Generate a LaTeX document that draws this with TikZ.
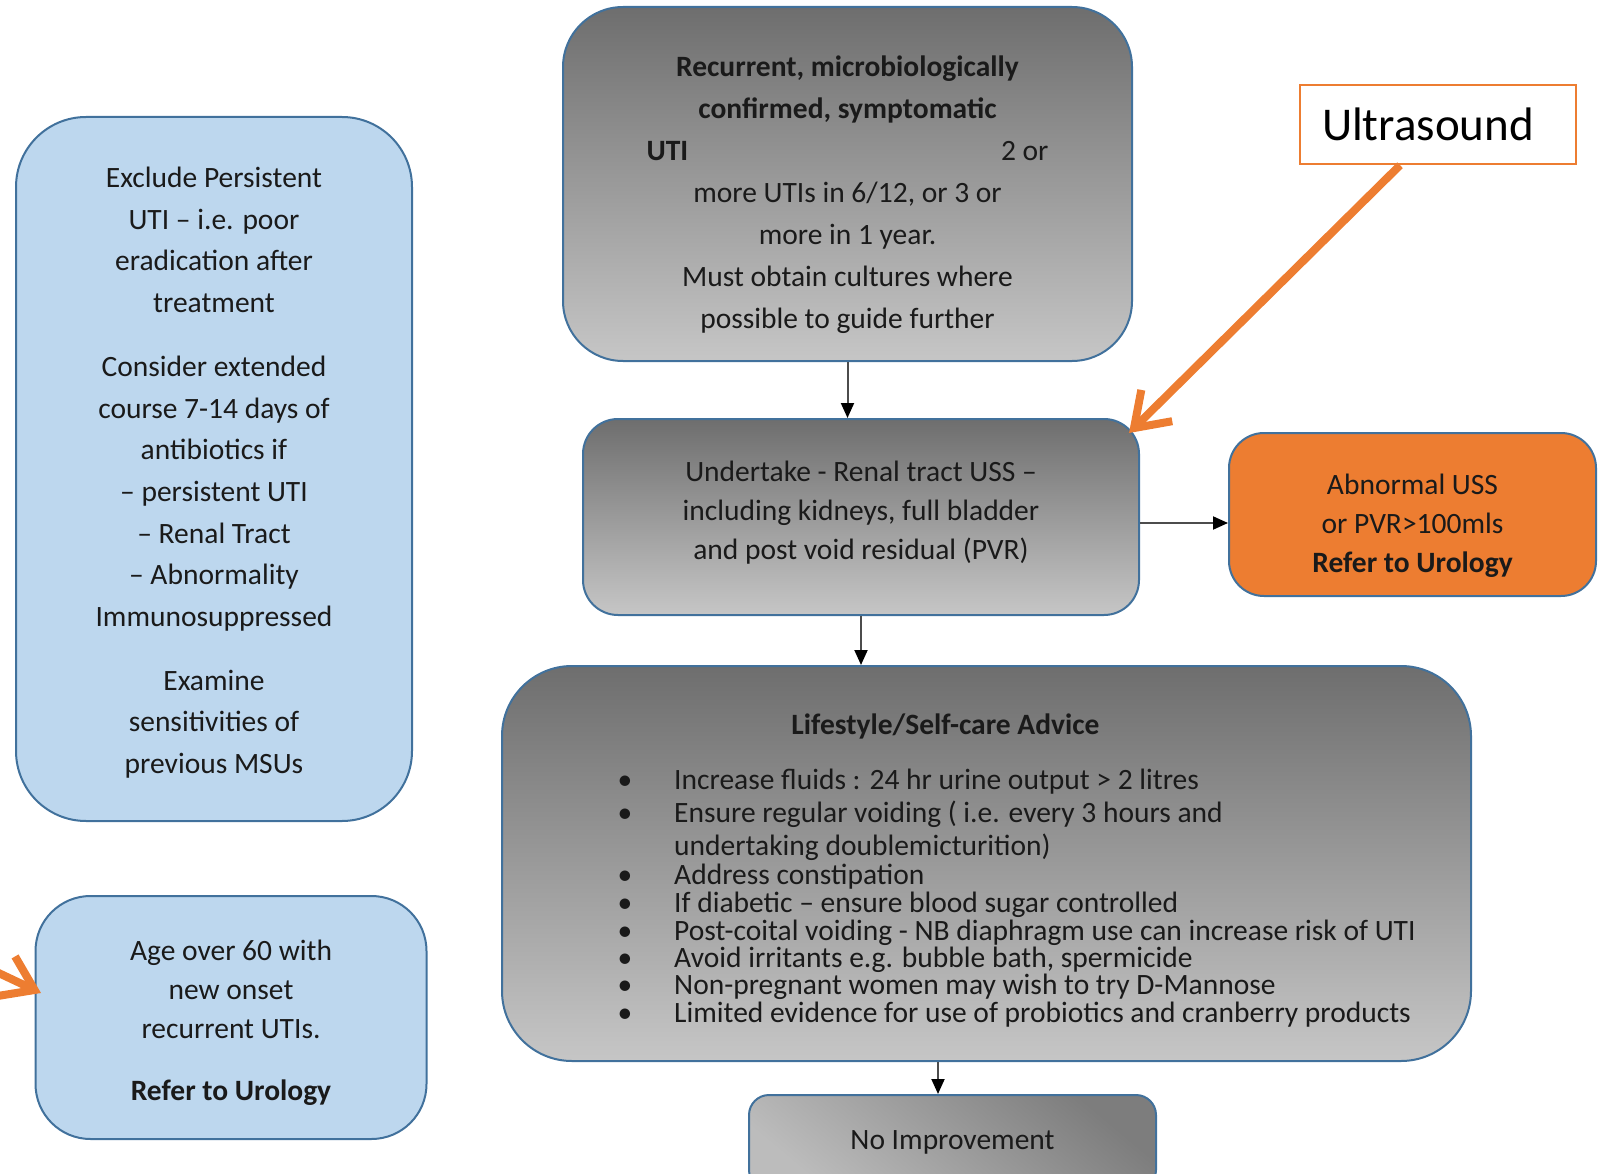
\documentclass[tikz,border=0pt]{standalone}
\usepackage{fontspec}
\setmainfont{Carlito}
\usepackage{tikz}
\usetikzlibrary{positioning}
\usetikzlibrary{arrows.meta}

\definecolor{boxblue}{HTML}{41719C}
\definecolor{paleblue}{HTML}{BDD7EE}
\definecolor{ugorange}{HTML}{ED7D31}
\definecolor{gdark}{HTML}{6E6E6E}
\definecolor{glight}{HTML}{C6C6C6}
\definecolor{ink}{HTML}{1A1A1A}

\begin{document}
\begin{tikzpicture}[x=1pt,y=-1pt,
  greybox/.style={draw=boxblue,line width=2pt,top color=gdark,bottom color=glight,align=center,text=ink},
  bluebox/.style={draw=boxblue,line width=2pt,fill=paleblue,align=center,text=ink},
  flow/.style={draw=black!70,line width=2pt,-{Triangle[length=15pt,width=13pt,color=black]}},
  usarrow/.style={draw=ugorange,line width=8pt,-{Straight Barb[length=32pt,width=44pt]}},
  txt/.style={text=ink,font=\fontsize{29.5}{29}\selectfont}]
\useasboundingbox (0,0) rectangle (1609,1174);

\node[greybox,rounded corners=60pt,minimum width=569pt,minimum height=354pt,
      font=\fontsize{29.5}{42}\selectfont] (recur) at (847.5,184)
  {\rule{0pt}{43pt}\textbf{Recurrent, microbiologically}\\
   \textbf{confirmed, symptomatic}\\
   \makebox[402pt]{\textbf{UTI}\hfill 2 or}\\
   more UTIs in 6/12, or 3 or\\
   more in 1 year.\\
   Must obtain cultures where\\
   possible to guide further};

\node[greybox,rounded corners=35pt,minimum width=556pt,minimum height=196pt,
      font=\fontsize{29.5}{39}\selectfont] (uss) at (861,517)
  {Undertake - Renal tract USS –\\
   including kidneys, full bladder\\
   and post void residual (PVR)\rule[-13pt]{0pt}{0pt}};

\node[draw=boxblue,line width=2pt,fill=ugorange,text=ink,align=center,
      rounded corners=35pt,minimum width=367pt,minimum height=163pt,
      font=\fontsize{29.5}{39}\selectfont] (abn) at (1412.5,514.5)
  {\rule{0pt}{43pt}Abnormal USS\\ or PVR>100mls\\ \textbf{Refer to Urology}};

\node[draw=ugorange,line width=2.5pt,fill=white,align=left,text=black,
      text width=232pt,inner xsep=22pt,minimum height=79pt,
      font=\fontsize{47}{50}\selectfont] (us) at (1438,124.5) {Ultrasound};

\node[greybox,rounded corners=70pt,minimum width=969pt,minimum height=395pt] (life) at (986.5,863.5) {};
\node[txt,anchor=base,font=\fontsize{29.5}{29}\selectfont\bfseries] (lifehead) at (945.5,734.5)
  {Lifestyle/Self-care Advice};
\foreach \y/\tip [count=\i] in {789.5/{Increase fluids : 24 hr urine output > 2 litres},
    822.5/{Ensure regular voiding ( i.e. every 3 hours and},
    855/{undertaking doublemicturition)},
    884.5/{Address constipation},
    912.5/{If diabetic – ensure blood sugar controlled},
    940.5/{Post-coital voiding - NB diaphragm use can increase risk of UTI},
    967.5/{Avoid irritants e.g. bubble bath, spermicide},
    994.5/{Non-pregnant women may wish to try D-Mannose},
    1022.5/{Limited evidence for use of probiotics and cranberry products}}
  \node[txt,anchor=base west,inner sep=0pt] (tip\i) at (674,\y) {\tip};
\foreach \y [count=\i] in {789.5,822.5,884.5,912.5,940.5,967.5,994.5,1022.5}
  \node[txt,anchor=base,inner sep=0pt] (dot\i) at (625,\y) {•};

\node[draw=boxblue,line width=2pt,top color=gdark!90!white,bottom color=glight!95!black,
      shading angle=-40,rounded corners=20pt,minimum width=407pt,minimum height=95pt,
      text=ink,font=\fontsize{29.5}{29}\selectfont] (noimp) at (952.5,1142.5) {No Improvement};

\node[bluebox,rounded corners=70pt,minimum width=396pt,minimum height=704pt,
      font=\fontsize{29.5}{41.7}\selectfont] (excl) at (214,469)
  {\rule{0pt}{28pt}Exclude Persistent\\
   UTI – i.e. poor\\
   eradication after\\
   treatment\\[22pt]
   Consider extended\\
   course 7-14 days of\\
   antibiotics if\\
   – persistent UTI\\
   – Renal Tract\\
   – Abnormality\\
   Immunosuppressed\\[22pt]
   Examine\\
   sensitivities of\\
   previous MSUs};

\node[bluebox,rounded corners=55pt,minimum width=391pt,minimum height=243pt,
      font=\fontsize{29.5}{39}\selectfont] (age) at (231,1017.5)
  {\rule{0pt}{30pt}Age over 60 with\\
   new onset\\
   recurrent UTIs.\\[23pt]
   \textbf{Refer to Urology}};

\coordinate (agetail) at (-139,908);

\path (recur.south) edge[flow] (recur.south |- uss.north)
      (uss.south) edge[flow] (uss.south |- life.north)
      ([xshift=-14.5pt]noimp.north |- life.south) edge[flow] ([xshift=-14.5pt]noimp.north)
      ([yshift=-6pt]uss.east) edge[flow] ([yshift=-6pt]uss.east -| abn.west);

\draw[usarrow] ([xshift=-38pt]us.south) -- ([shift={(-11,15)}]uss.north east);
\draw[usarrow] (agetail) -- ([shift={(6.5,-24.5)}]age.west);

\end{tikzpicture}
\end{document}
